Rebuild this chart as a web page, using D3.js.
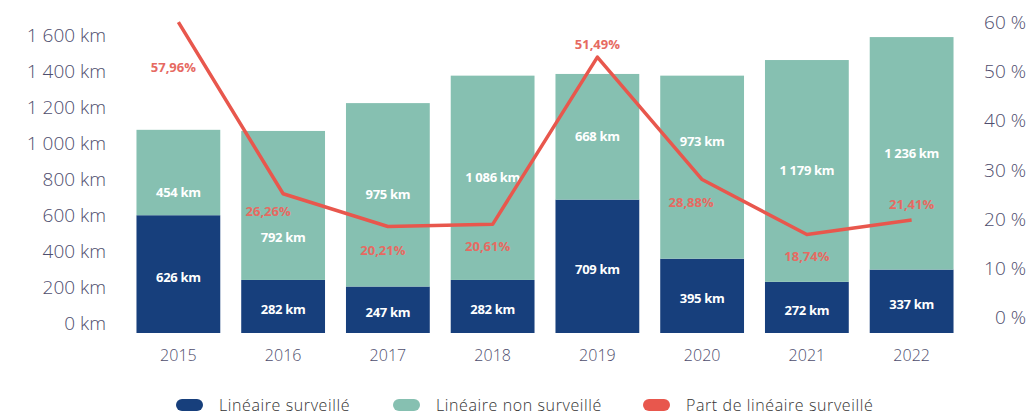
<!DOCTYPE html>
<html>
<head>
<meta charset="utf-8">
<script src="https://d3js.org/d3.v7.min.js"></script>
<style>
  body { margin: 0; background: #fff; font-family: 'Open Sans', 'Lato', sans-serif; }
  .axis text { fill: #4e4d6d; font-family: 'Open Sans', sans-serif; font-weight: 300; }
</style>
</head>
<body>
<div id="chart"></div>
<script>
// data
const years = ["2015", "2016", "2017", "2018", "2019", "2020", "2021", "2022"];
const surveille = [626, 282, 247, 282, 709, 395, 272, 337];
const nonSurveille = [454, 792, 975, 1086, 668, 973, 1179, 1236];
const partSurveille = [57.96, 26.26, 20.21, 20.61, 51.49, 28.88, 18.74, 21.41];
const kmTicks = [0, 200, 400, 600, 800, 1000, 1200, 1400, 1600];
const pctTicks = [0, 10, 20, 30, 40, 50, 60];
const legendItems = ["Linéaire surveillé", "Linéaire non surveillé", "Part de linéaire surveillé"];

// label nudges (layout only)
const pctDx = [-5, -15, -5, -5, 0, -11, 0, 0];
const pctDy = [45, 18, 24, 22, -13, 23, 22, -16];
const teal_dy = { "2015": 20, "2016": 32, "2020": -26 };

const W = 1032, H = 417;
const colDark = "#173f7c", colTeal = "#86c0b1", colRed = "#e8574d";

const svg = d3.select("#chart").append("svg").attr("width", W).attr("height", H);

const x = d3.scaleBand().domain(years).range([126, 964]).paddingInner(0.2).paddingOuter(0.1);
const y = d3.scaleLinear().domain([0, 1600]).range([333, 32]);
const yLab = d3.scaleLinear().domain([0, 1600]).range([323, 35]);
const yPct = d3.scaleLinear().domain([0, 60]).range([336, 11]);
const yPctLab = d3.scaleLinear().domain([0, 60]).range([317, 22]);

const fmt = v => d3.format(",")(v).replace(/,/g, " ");

// left axis
const gl = svg.append("g").attr("class", "axis").attr("transform", "translate(106,0)")
  .call(d3.axisLeft(yLab).tickValues(kmTicks).tickSize(0).tickPadding(0).tickFormat(d => fmt(d) + " km"));
gl.select(".domain").remove();
gl.selectAll("text").attr("font-size", 19).attr("dy", "0.35em");

// right axis
const gr = svg.append("g").attr("class", "axis").attr("transform", "translate(1026,0)")
  .call(d3.axisLeft(yPctLab).tickValues(pctTicks).tickSize(0).tickPadding(0).tickFormat(d => d + " %"));
gr.select(".domain").remove();
gr.selectAll("text").attr("font-size", 19).attr("dy", "0.35em");

// x axis
const gx = svg.append("g").attr("class", "axis").attr("transform", "translate(0,345)")
  .call(d3.axisBottom(x).tickSize(0).tickPadding(0));
gx.select(".domain").remove();
gx.selectAll("text").attr("font-size", 16).attr("dy", "1em").attr("fill", "#555");

// bars
const bars = svg.append("g");
bars.selectAll("rect.dark").data(years).join("rect")
  .attr("x", d => x(d)).attr("width", x.bandwidth())
  .attr("y", (d, i) => y(surveille[i]))
  .attr("height", (d, i) => y(0) - y(surveille[i]))
  .attr("fill", colDark);
bars.selectAll("rect.teal").data(years).join("rect")
  .attr("x", d => x(d)).attr("width", x.bandwidth())
  .attr("y", (d, i) => y(surveille[i] + nonSurveille[i]))
  .attr("height", (d, i) => y(surveille[i]) - y(surveille[i] + nonSurveille[i]))
  .attr("fill", colTeal);

const lbl = svg.append("g").attr("font-family", "'Open Sans', sans-serif")
  .attr("font-weight", "bold").attr("font-size", 13).attr("fill", "#fff")
  .attr("text-anchor", "middle").attr("letter-spacing", "-0.3");
lbl.selectAll("text.d").data(years).join("text")
  .attr("x", d => x(d) + x.bandwidth() / 2)
  .attr("y", (d, i) => (y(0) + y(surveille[i])) / 2 + 3)
  .attr("dy", "0.35em")
  .text((d, i) => fmt(surveille[i]) + " km");
lbl.selectAll("text.t").data(years).join("text")
  .attr("x", d => x(d) + x.bandwidth() / 2)
  .attr("y", (d, i) => (y(surveille[i]) + y(surveille[i] + nonSurveille[i])) / 2 + (teal_dy[d] || 0))
  .attr("dy", "0.35em")
  .text((d, i) => fmt(nonSurveille[i]) + " km");

// line
const line = d3.line()
  .x((d, i) => x(years[i]) + x.bandwidth() / 2)
  .y(d => yPct(d));
svg.append("path").datum(partSurveille)
  .attr("d", line).attr("fill", "none")
  .attr("stroke", colRed).attr("stroke-width", 3.5).attr("stroke-linejoin", "round");

svg.append("g").attr("font-family", "'Open Sans', sans-serif")
  .attr("font-weight", "bold").attr("font-size", 13).attr("fill", "#e66a62")
  .attr("text-anchor", "middle")
  .selectAll("text").data(partSurveille).join("text")
  .attr("x", (d, i) => x(years[i]) + x.bandwidth() / 2 + pctDx[i])
  .attr("y", (d, i) => yPct(d) + pctDy[i])
  .attr("dy", "0.35em")
  .text(d => d3.format(".2f")(d).replace(".", ",") + "%");

// legend
const legX = [176, 393, 643];
const legCols = [colDark, colTeal, colRed];
const leg = svg.append("g").attr("transform", "translate(0,405)");
leg.selectAll("rect").data(legendItems).join("rect")
  .attr("x", (d, i) => legX[i]).attr("y", -6)
  .attr("width", 27).attr("height", 12).attr("rx", 6)
  .attr("fill", (d, i) => legCols[i]);
leg.selectAll("text").data(legendItems).join("text")
  .attr("x", (d, i) => legX[i] + 43).attr("dy", "0.35em")
  .attr("font-size", 16).attr("font-weight", 300).attr("fill", "#333")
  .attr("letter-spacing", "0.6")
  .text(d => d);
</script>
</body>
</html>
